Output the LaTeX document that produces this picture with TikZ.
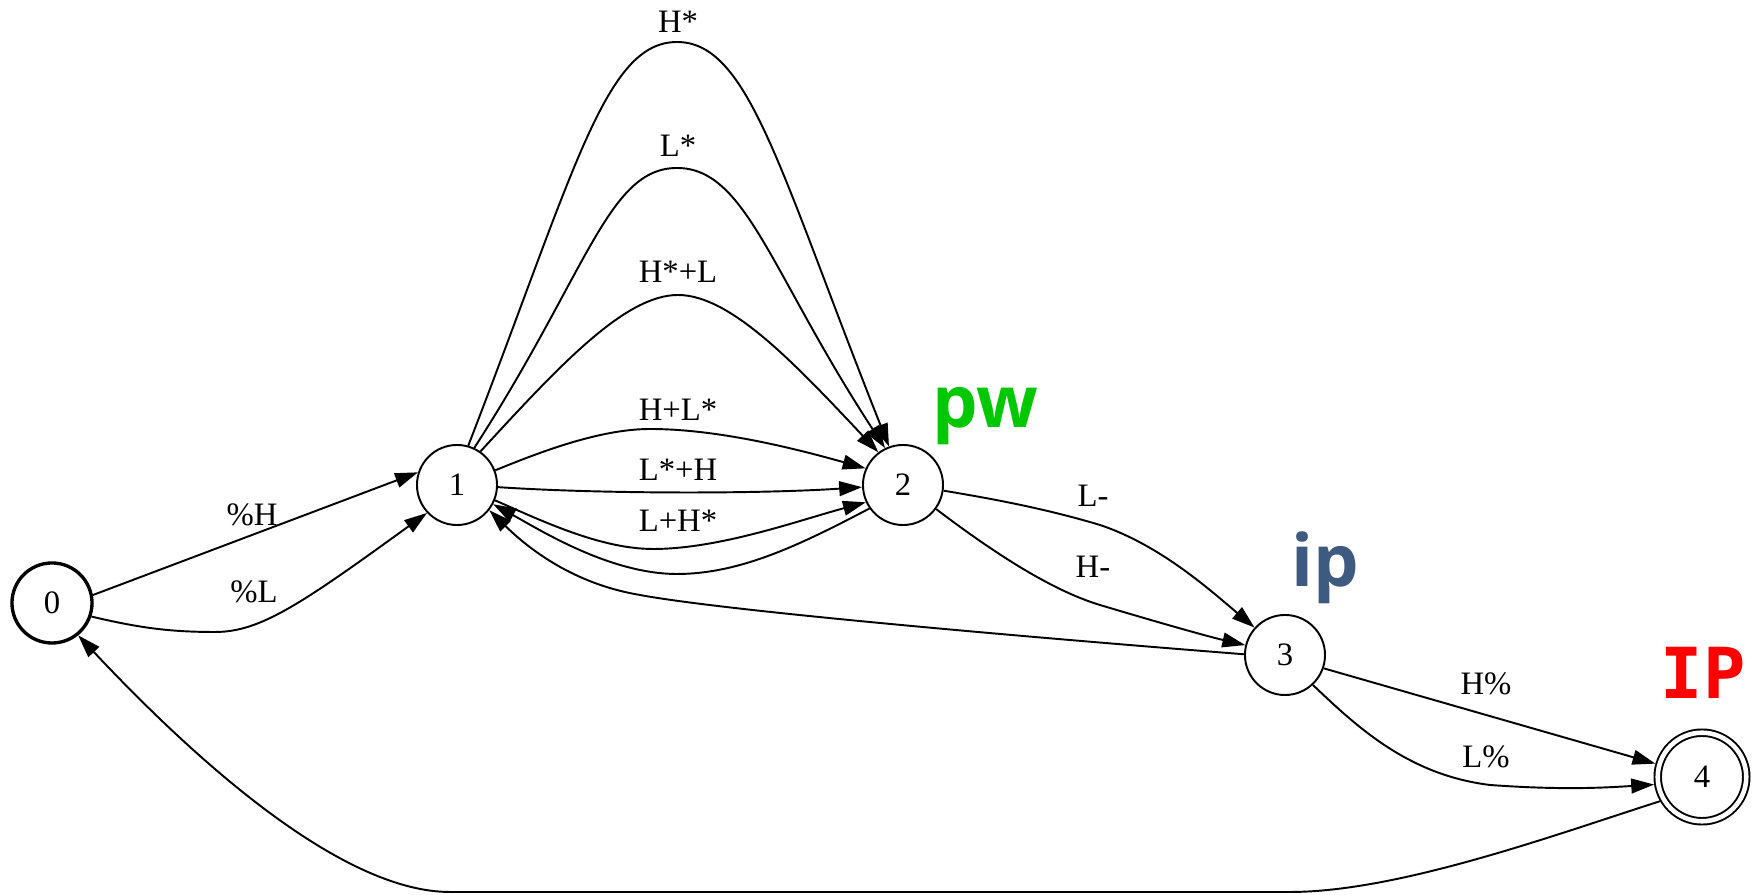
\documentclass[tikz,border=0pt]{standalone}
\usepackage{fontspec}
\setmainfont{Liberation Serif}
\newfontfamily\tagfont{Open Sans}
\newfontfamily\tagmono{DejaVu Sans Mono}
\usetikzlibrary{arrows.meta}
\definecolor{pwgreen}{RGB}{0,200,0}
\definecolor{ipblue}{RGB}{62,90,128}
\definecolor{ipred}{RGB}{255,0,0}
\tikzstyle{state} = [circle, draw, line width=0.55pt,
    minimum size=0.8cm, inner sep=0pt, font=\fontsize{9.3}{11}\selectfont]
\tikzstyle{initstate} = [state, line width=0.95pt]
\tikzstyle{finalstate} = [state, double, double distance=1.3pt,
    minimum size=0.885cm, outer sep=1.2pt]
\tikzstyle{elabel} = [inner sep=0pt, font=\fontsize{9.3}{11}\selectfont]
\tikzstyle{tag} = [inner sep=0pt, anchor=base,
    font=\tagfont\bfseries\fontsize{20.5}{24}\selectfont]
\tikzstyle{line} = [draw, line width=0.55pt, -{Triangle[length=6.5pt,width=4.2pt]}]

\begin{document}
\begin{tikzpicture}[x=0.01cm, y=-0.01cm]
    \useasboundingbox (0,0) rectangle (1759,895);
    % Place nodes
    \node [initstate] (n0) at (52,603) {0};
    \node [state] (n1) at (457,485) {1};
    \node [state] (n2) at (903,485) {2};
    \node [state] (n3) at (1285,655) {3};
    \node [finalstate] (n4) at (1702,777) {4};
    % Tags
    \node [tag, text=pwgreen] (pw) at (985,428) {pw};
    \node [tag, text=ipblue] (ip) at (1325,587) {ip};
    \node [tag, text=ipred, font=\tagmono\bfseries\fontsize{20}{24}\selectfont] (IP) at (1703,699) {IP};
    % Edge labels
    \node [elabel] (lpH) at (252,515) {\%H};
    \node [elabel] (lpL) at (254,592) {\%L};
    \node [elabel] (lHs) at (678,22) {H*};
    \node [elabel] (lLs) at (678,146) {L*};
    \node [elabel] (lHsL) at (678,272) {H*+L};
    \node [elabel] (lHLs) at (678,410) {H+L*};
    \node [elabel] (lLsH) at (678,470) {L*+H};
    \node [elabel] (lLHs) at (678,521) {L+H*};
    \node [elabel] (lLm) at (1093,496) {L-};
    \node [elabel] (lHm) at (1093,567) {H-};
    \node [elabel] (lHp) at (1486,684) {H\%};
    \node [elabel] (lLp) at (1486,757) {L\%};
    % Draw edges
    \path [line] (n0.11) -- (n1.162);
    \path [line] (n0.-19) .. controls (140,628) and (170,632) .. (215,632) .. controls (260,632) and (300,605) .. (n1.-137);
    \path [line] (n1.74) .. controls (575,170) and (605,42) .. (677,42) .. controls (749,42) and (779,170) .. (n2.110);
    \path [line] (n1.65) .. controls (588,272) and (608,168) .. (677,168) .. controls (746,168) and (770,272) .. (n2.116);
    \path [line] (n1.55) .. controls (560,365) and (625,295) .. (678,295) .. controls (731,295) and (796,365) .. (n2.127);
    \path [line] (n1.21) .. controls (540,452) and (600,429) .. (650,429) .. controls (720,429) and (800,450) .. (n2.156);
    \path [line] (n1.-3) .. controls (600,494) and (760,494) .. (n2.183);
    \path [line] (n1.-22) .. controls (540,520) and (600,549) .. (653,549) .. controls (720,549) and (800,520) .. (n2.-155);
    \path [line] (n2.-145) .. controls (800,545) and (740,574) .. (677,574) .. controls (610,574) and (540,530) .. (n1.-28);
    \path [line] (n3.179) .. controls (1000,635) and (720,610) .. (640,595) .. controls (580,585) and (535,555) .. (n1.-38);
    \path [line] (n2.-8) .. controls (1000,500) and (1050,510) .. (1100,525) .. controls (1160,545) and (1210,590) .. (n3.138);
    \path [line] (n2.-36) .. controls (990,550) and (1050,590) .. (1100,605) .. controls (1160,623) and (1210,637) .. (n3.166);
    \path [line] (n3.-19) -- (n4.164);
    \path [line] (n3.-47) .. controls (1360,730) and (1410,775) .. (1490,785) .. controls (1560,790) and (1600,788) .. (n4.-171);
    \path [line] (n4.-150) .. controls (1560,833) and (1400,892) .. (1290,892) -- (450,892) .. controls (350,892) and (214,780) .. (n0.-51);
\end{tikzpicture}
\end{document}
